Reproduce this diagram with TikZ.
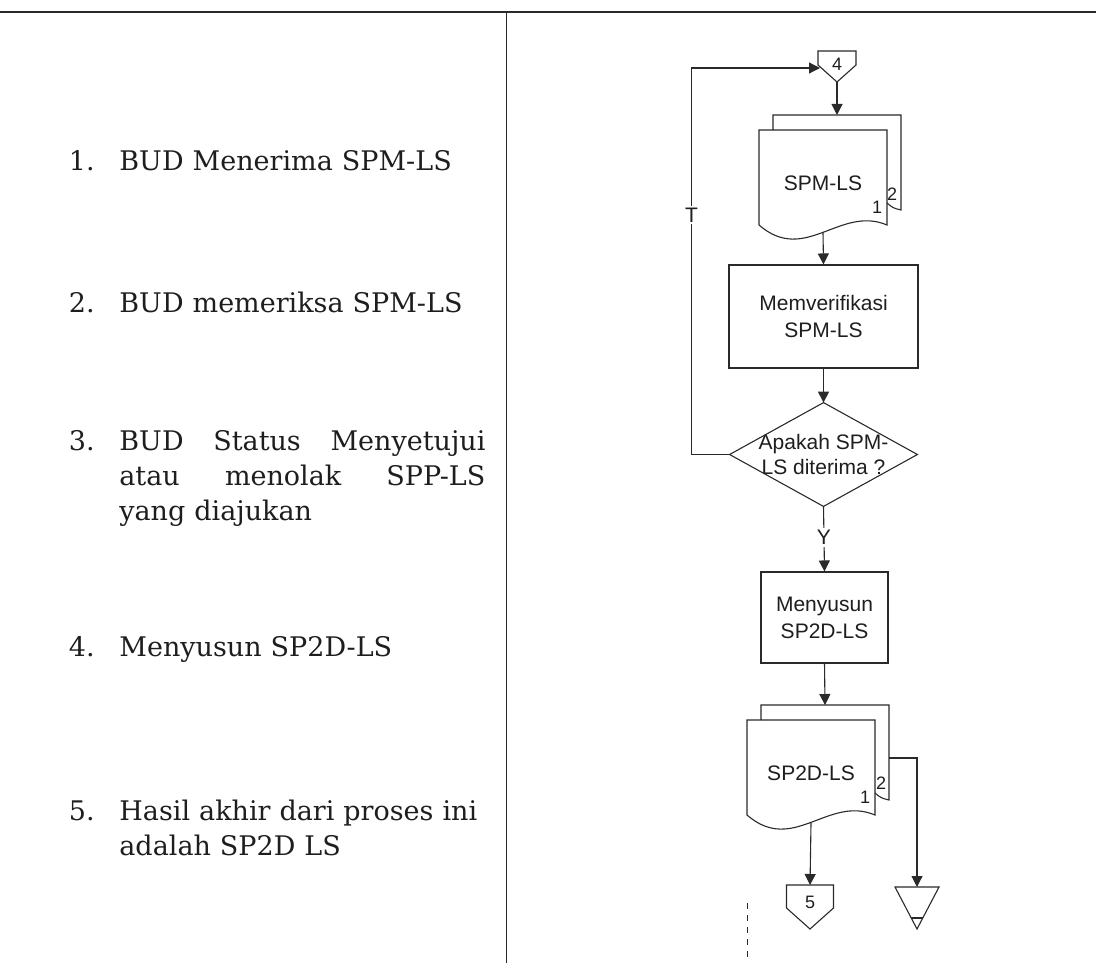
\documentclass[tikz,border=0pt]{standalone}
\usepackage{fontspec}
\setmainfont{DejaVu Serif}
\newfontfamily\arialfont{Liberation Sans}
\usetikzlibrary{arrows.meta,positioning,calc}
\definecolor{ink}{HTML}{1E1E1E}
\definecolor{garisc}{HTML}{2A2A2A}
\tikzset{
  >={Triangle[length=5.5pt,width=5.5pt]},
  garis/.style={draw=garisc,line width=0.55pt},
  arr/.style={->,garis},
  proc/.style={garis,rectangle,inner sep=0pt,align=center,font=\arialfont\fontsize{10.5}{13.5}\selectfont,text=ink},
  keputusan/.style={inner sep=0pt,minimum width=93.5pt,minimum height=51.5pt,align=center,font=\arialfont\fontsize{10.5}{12.5}\selectfont,text=ink},
  dok/.style={inner sep=0pt,font=\arialfont\fontsize{10.5}{12.5}\selectfont,text=ink},
  kecil/.style={inner sep=0pt,font=\arialfont\fontsize{9}{10}\selectfont,text=ink},
  lab/.style={fill=white,inner sep=1pt,font=\arialfont\fontsize{10.5}{12}\selectfont,text=ink},
  nomor/.style={anchor=north east,inner sep=0pt,font=\fontsize{13.5}{17.5}\selectfont,text=ink},
  butir/.style={anchor=north west,inner sep=0pt,text width=183pt,align=left,font=\fontsize{13.5}{17.5}\selectfont,text=ink},
}
\begin{document}
\begin{tikzpicture}[x=0.5pt,y=-0.5pt]
\useasboundingbox (0,0) rectangle (1096,963);
% frame of the table
\draw[garis,line width=0.6pt] (0,12) -- (1096,12);
\draw[garis,line width=0.5pt] (506,12) -- (506,963);
\draw[garis,line width=0.5pt,dashed] (747,903) -- (747,963);

% left column
\node[nomor] (n1) at (95,150) {1.};
\node[butir] (t1) at (119,150) {BUD Menerima SPM-LS};
\node[nomor] (n2) at (95,292) {2.};
\node[butir] (t2) at (119,292) {BUD memeriksa SPM-LS};
\node[nomor] (n3) at (95,430) {3.};
\node[butir] (t3) at (119,430) {BUD\hfill Status\hfill Menyetujui\\atau\hfill menolak\hfill SPP-LS\\yang diajukan};
\node[nomor] (n4) at (95,636) {4.};
\node[butir] (t4) at (119,636) {Menyusun SP2D-LS};
\node[nomor] (n5) at (95,800) {5.};
\node[butir] (t5) at (119,800) {Hasil akhir dari proses ini\\adalah SP2D LS};

% flowchart
\node[kecil] (c4) at (837,64) {4};
\draw[garis] ($(c4)+(-19,-13)$) -- ($(c4)+(19,-13)$) -- ($(c4)+(19,1)$) -- ($(c4)+(0,18)$) -- ($(c4)+(-19,1)$) -- cycle;

\node[dok] (spm) at (823,183) {SPM-LS};
\draw[garis] ($(spm)+(-50,-53)$) -- ($(spm)+(-50,-68)$) -- ($(spm)+(78,-68)$) -- ($(spm)+(78,27)$) .. controls ($(spm)+(70,25)$) .. ($(spm)+(64,20)$);
\draw[garis] ($(spm)+(-64,-53)$) -- ($(spm)+(-64,42)$) .. controls ($(spm)+(-18,82)$) and ($(spm)+(17,22)$) .. ($(spm)+(64,42)$) -- ($(spm)+(64,-53)$) -- cycle;
\node[kecil] (spm1) at ($(spm)+(54,24)$) {1};
\node[kecil] (spm2) at ($(spm)+(69,11)$) {2};

\node[proc,minimum width=94.5pt,minimum height=51.5pt] (verif) at (823.5,316.5) {Memverifikasi\\SPM-LS};
\node[keputusan] (cek) at (823.5,454.5) {Apakah SPM-\\LS diterima ?};
\draw[garis] (cek.west) -- (cek.north) -- (cek.east) -- (cek.south) -- cycle;
\node[proc,minimum width=63.5pt,minimum height=45.5pt] (susun) at (824.5,617.5) {Menyusun\\SP2D-LS};

\node[dok] (sp2d) at (811,773) {SP2D-LS};
\draw[garis] ($(sp2d)+(-50,-53)$) -- ($(sp2d)+(-50,-68)$) -- ($(sp2d)+(78,-68)$) -- ($(sp2d)+(78,27)$) .. controls ($(sp2d)+(70,25)$) .. ($(sp2d)+(64,20)$);
\draw[garis] ($(sp2d)+(-64,-53)$) -- ($(sp2d)+(-64,42)$) .. controls ($(sp2d)+(-18,82)$) and ($(sp2d)+(17,22)$) .. ($(sp2d)+(64,42)$) -- ($(sp2d)+(64,-53)$) -- cycle;
\node[kecil] (sp2d1) at ($(sp2d)+(54,24)$) {1};
\node[kecil] (sp2d2) at ($(sp2d)+(70,10)$) {2};

\node[kecil] (c5) at (810,902) {5};
\draw[garis] ($(c5)+(-23.5,-17)$) -- ($(c5)+(23.5,-17)$) -- ($(c5)+(23.5,6)$) -- ($(c5)+(0,27)$) -- ($(c5)+(-23.5,6)$) -- cycle;

\node[inner sep=0pt] (arsip) at (917,908) {};
\draw[garis] ($(arsip)+(-22,-21)$) -- ($(arsip)+(22,-21)$) -- ($(arsip)+(0,21)$) -- cycle;
\draw[garis] ($(arsip)+(-6,10)$) -- ($(arsip)+(6,10)$);

% connectors
\draw[arr] ($(c4)+(0,18)$) -- ($(spm)+(14,-68)$);
\draw[arr] ($(spm)+(0,50)$) -- (verif.north);
\draw[arr] (verif.south) -- (cek.north);
\draw[arr] (cek.west) -- ++(-38,0) |- node[lab,pos=0.31]{T} ($(c4)+(-17,4)$);
\draw[arr] (cek.south) -- node[lab,pos=0.48]{Y} (susun.north);
\draw[arr] (susun.south) -- ($(sp2d)+(14,-68)$);
\draw[arr] ($(sp2d)+(0,50)$) -- ($(c5)+(0,-17)$);
\draw[arr] ($(sp2d)+(78,-15)$) -| ($(arsip)+(0,-21)$);
\end{tikzpicture}
\end{document}
